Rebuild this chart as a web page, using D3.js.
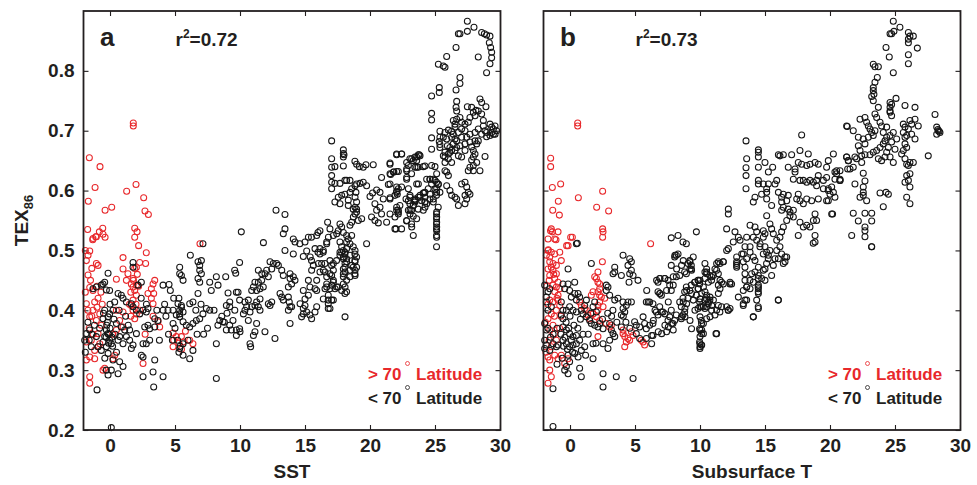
<!DOCTYPE html>
<html>
<head>
<meta charset="utf-8">
<script src="https://cdnjs.cloudflare.com/ajax/libs/d3/7.8.5/d3.min.js"></script>
<style>
body { margin: 0; background: #fff; }
</style>
</head>
<body>
<svg id="chart" width="977" height="485"></svg>
<script>
var xTicks = [0, 5, 10, 15, 20, 25, 30];
var yTicks = [0.2, 0.3, 0.4, 0.5, 0.6, 0.7, 0.8];
var panelLetters = ['a', 'b'];
var rSquared = ['0.72', '0.73'];
var xTitles = ['SST', 'Subsurface T'];
var legendLabels = ['> 70', '< 70'];

// panel a, > 70 deg latitude
var sstHigh = [
  [-1.59,0.655],[-0.77,0.64],[-1.15,0.605],[-1.67,0.582],[1.79,0.713],[1.79,0.708],[2.0,0.61],[1.28,0.599],
  [2.59,0.588],[2.69,0.566],[2.95,0.56],[-0.38,0.567],[0.13,0.572],[-1.72,0.535],[-0.56,0.537],[-0.82,0.531],
  [-1.1,0.523],[-1.33,0.518],[-0.38,0.522],[1.9,0.537],[2.08,0.531],[1.9,0.522],[2.2,0.508],[6.92,0.511],
  [-1.05,0.523],[-0.54,0.527],[-1.31,0.52],[2.79,0.496],[-1.56,0.499],[-1.69,0.492],[-1.82,0.483],[-1.05,0.478],
  [-0.92,0.475],[-1.69,0.459],[1.0,0.488],[2.28,0.48],[2.74,0.478],[2.03,0.472],[1.0,0.469],[1.38,0.461],
  [0.49,0.452],[1.26,0.45],[1.77,0.453],[1.64,0.444],[1.77,0.439],[2.03,0.442],[1.9,0.433],[2.03,0.425],
  [1.77,0.417],[1.64,0.408],[1.77,0.4],[2.03,0.394],[1.9,0.386],[3.44,0.45],[3.31,0.444],[3.18,0.436],
  [3.36,0.428],[2.92,0.428],[3.18,0.42],[3.31,0.411],[-1.56,0.438],[-1.31,0.433],[-0.92,0.42],[-1.18,0.414],
  [-1.82,0.411],[-1.31,0.4],[-0.79,0.394],[-1.56,0.389],[-1.05,0.383],[-0.67,0.375],[-0.92,0.361],[-1.44,0.35],
  [-1.82,0.347],[-0.79,0.344],[-1.18,0.333],[-1.56,0.322],[-1.18,0.319],[-1.82,0.317],[-0.41,0.303],[-1.56,0.289],
  [-1.56,0.278],[0.49,0.4],[1.0,0.397],[0.74,0.383],[1.0,0.372],[0.49,0.367],[3.31,0.39],[3.69,0.381],
  [3.82,0.372],[4.85,0.362],[5.1,0.356],[4.85,0.339],[5.49,0.356],[5.62,0.347],[6.38,0.344],[6.13,0.35],
  [0.36,0.325],[0.23,0.319],[2.54,0.311],[-0.54,0.3],[-0.92,0.339],
  [-1.7,0.4],[-1.4,0.39],[-1.0,0.405],[-1.6,0.37],[-1.3,0.36],[-0.6,0.41],[-0.7,0.43],[-1.9,0.43],
  [-1.5,0.45],[-1.0,0.44],[-1.9,0.5],[-1.4,0.47],[1.6,0.43],[1.8,0.45],[2.1,0.46],[1.5,0.41],
  [2.0,0.41],[1.6,0.39],[2.2,0.44],[1.9,0.47],[2.3,0.4],[0.2,0.36],[5.5,0.335],[5.8,0.365],
  [4.9,0.35],[5.3,0.345],[2.7,0.36]
];

// panel a, < 70 deg latitude
var sstLow = [
  [10.1,0.531],[7.15,0.511],[6.18,0.492],[6.77,0.481],[7.03,0.483],[6.9,0.475],[6.9,0.467],[7.03,0.461],
  [6.77,0.453],[6.9,0.447],[5.36,0.472],[5.36,0.461],[5.49,0.458],[5.62,0.45],[1.77,0.48],[1.77,0.472],
  [-0.15,0.462],[-0.41,0.447],[-0.54,0.444],[-0.67,0.442],[-1.05,0.439],[-1.31,0.436],[-0.28,0.434],[-0.03,0.433],
  [2.41,0.447],[2.15,0.442],[4.08,0.442],[4.54,0.443],[4.64,0.433],[7.67,0.447],[8.31,0.442],[8.9,0.456],
  [9.59,0.467],[9.67,0.462],[9.97,0.48],[8.18,0.456],[7.79,0.433],[9.08,0.429],[9.72,0.43],[9.85,0.43],
  [6.77,0.428],[6.38,0.414],[6.13,0.411],[9.97,0.417],[9.21,0.414],[8.95,0.408],[9.21,0.406],
  [0.62,0.428],[0.87,0.425],[1.0,0.42],[0.36,0.414],[0.23,0.4],[-0.03,0.394],[-0.15,0.389],[-0.54,0.386],
  [-0.41,0.4],[1.26,0.414],[1.64,0.411],[1.77,0.406],[2.03,0.4],[2.28,0.394],[2.54,0.4],[2.79,0.397],
  [2.92,0.403],[4.08,0.4],[4.46,0.4],[4.85,0.4],[5.23,0.411],[5.49,0.408],[5.36,0.4],[5.62,0.397],
  [5.36,0.394],[3.44,0.386],[3.69,0.383],[2.92,0.375],[3.05,0.369],[2.67,0.372],[3.44,0.372],[5.1,0.392],
  [5.36,0.389],[5.62,0.381],[5.87,0.375],[6.13,0.372],[6.38,0.378],[6.64,0.383],[6.9,0.386],[7.15,0.394],
  [7.41,0.403],[7.67,0.4],[8.44,0.383],[8.69,0.381],[9.21,0.375],[9.46,0.383],[9.72,0.367],[9.97,0.369],
  [9.33,0.367],[0.49,0.378],[0.87,0.372],[1.13,0.367],[1.51,0.367],[1.26,0.356],[0.74,0.356],[0.62,0.35],
  [1.0,0.344],[1.51,0.35],[1.77,0.342],[1.64,0.336],[2.03,0.361],[2.54,0.344],[3.05,0.35],[2.79,0.344],
  [-0.28,0.367],[-0.15,0.361],[-0.41,0.356],[-0.03,0.35],[-0.54,0.347],[0.1,0.344],[-0.28,0.339],[-0.67,0.333],
  [-0.15,0.328],[-1.56,0.367],[-1.82,0.361],[-1.95,0.35],[-1.44,0.339],[-0.92,0.339],[-1.05,0.356],
  [0.23,0.317],[0.74,0.314],[1.0,0.306],[0.62,0.294],[-0.28,0.3],[-0.15,0.292],[2.54,0.322],[2.41,0.325],
  [3.44,0.317],[2.54,0.289],[3.31,0.297],[4.08,0.289],[3.36,0.272],[-1.0,0.267],[8.18,0.286],[4.85,0.378],
  [5.36,0.336],[5.62,0.344],[6.38,0.333],[5.62,0.325],[6.13,0.319],[8.18,0.344],[8.95,0.367],[9.72,0.358],
  [0.1,0.204],
  [-0.2,0.38],[0.0,0.37],[-0.3,0.355],[0.2,0.34],[-0.1,0.345],[0.4,0.36],[-1.7,0.38],[-1.2,0.375],
  [-0.8,0.37],[0.3,0.385],[-0.5,0.395],[-1.6,0.35],[-1.9,0.33],[-1.4,0.36],[0.0,0.41],[0.5,0.33],
  [-0.4,0.32],[0.1,0.3],[-0.1,0.36],[0.15,0.355],[-0.25,0.375],[1.2,0.39],[1.4,0.375],[0.7,0.4],
  [2.4,0.42],[2.8,0.41],[3.6,0.4],[4.2,0.41],[4.9,0.42],[5.3,0.42],[5.5,0.405],[6.6,0.4],
  [7.0,0.41],[8.0,0.4],[8.6,0.39],[8.8,0.38],[7.5,0.37],[7.2,0.36],[8.3,0.375],[9.6,0.4],
  [9.0,0.395],[5.0,0.37],[4.3,0.39],[5.3,0.33],[5.4,0.34],[5.2,0.35],[4.8,0.35],[6.0,0.35],
  [4.5,0.36],[3.8,0.35],[6.7,0.36],
  [12.77,0.567],[13.46,0.56],[13.46,0.536],[13.33,0.528],[11.8,0.513],[14.1,0.519],[14.23,0.514],[14.6,0.511],
  [15.0,0.514],[15.26,0.522],[15.5,0.522],[16.0,0.53],[16.15,0.533],[15.9,0.525],[13.46,0.5],[14.1,0.494],
  [14.87,0.49],[15.13,0.499],[15.5,0.483],[15.4,0.489],[15.77,0.503],[16.15,0.503],[16.0,0.497],[16.4,0.497],
  [16.67,0.514],[16.8,0.522],[16.74,0.547],[16.92,0.536],[17.18,0.525],[17.44,0.528],[17.56,0.533],[17.69,0.544],
  [17.82,0.539],[17.95,0.53],[18.2,0.525],[18.46,0.542],[18.59,0.547],[18.72,0.556],[18.85,0.561],[18.97,0.564],
  [18.85,0.572],[18.97,0.581],[18.85,0.589],[18.92,0.597],[18.85,0.608],[18.97,0.611],
  [17.69,0.514],[17.82,0.506],[17.95,0.5],[18.08,0.497],[18.2,0.503],[17.82,0.497],[17.69,0.492],[17.95,0.489],
  [18.2,0.486],[18.46,0.492],[18.85,0.5],[18.97,0.489],[18.85,0.481],[18.97,0.472],[18.85,0.467],[18.85,0.458],
  [18.08,0.478],[17.95,0.469],[18.08,0.464],[17.95,0.456],[18.2,0.45],[18.08,0.439],[18.2,0.431],[17.95,0.444],
  [18.46,0.467],[18.59,0.475],[18.2,0.514],[18.46,0.511],[18.33,0.519],[18.59,0.525],
  [16.92,0.483],[17.05,0.475],[17.18,0.467],[17.05,0.458],[17.18,0.45],[17.05,0.442],[16.92,0.436],[17.31,0.436],
  [17.44,0.439],[16.67,0.444],[16.54,0.436],[16.79,0.425],[16.41,0.419],[16.79,0.411],[16.92,0.403],[17.18,0.417],
  [16.54,0.478],[16.41,0.467],[16.67,0.456],[16.15,0.464],[16.03,0.478],[15.64,0.475],[15.51,0.467],[15.9,0.45],
  [15.77,0.436],[15.9,0.433],[15.26,0.45],[15.38,0.439],[14.87,0.433],[15.0,0.419],[15.26,0.425],[15.0,0.408],
  [14.87,0.403],[15.13,0.397],[15.51,0.386],[15.38,0.392],[14.74,0.389],[14.87,0.394],[14.62,0.411],[15.9,0.406],
  [15.77,0.397],[13.85,0.461],[14.1,0.456],[14.23,0.45],[13.85,0.453],[13.97,0.444],[13.72,0.439],[13.33,0.458],
  [13.21,0.467],[12.95,0.475],[12.56,0.478],[12.82,0.478],[12.31,0.481],[12.44,0.469],[12.05,0.467],[11.92,0.461],
  [12.18,0.456],[11.67,0.45],[11.41,0.447],[11.15,0.447],[11.03,0.439],[10.9,0.433],[11.28,0.433],[11.54,0.436],
  [11.79,0.439],[11.41,0.467],[11.67,0.461],[13.08,0.428],[13.21,0.422],[13.33,0.417],[13.72,0.422],[13.79,0.414],
  [13.85,0.406],[13.72,0.4],[13.97,0.406],[13.85,0.378],[12.44,0.414],[12.18,0.411],[12.31,0.408],[11.54,0.419],
  [11.28,0.414],[11.15,0.408],[10.9,0.406],[10.64,0.417],[10.38,0.414],[10.51,0.406],[10.26,0.394],[10.38,0.4],
  [10.77,0.397],[10.64,0.383],[11.28,0.378],[11.15,0.364],[11.03,0.358],[11.92,0.364],[12.69,0.353],[10.77,0.344],
  [10.82,0.339],[10.0,0.364],[11.54,0.4],[11.41,0.406],[18.08,0.389],
  [16.67,0.511],[16.41,0.5],[16.15,0.494],[17.18,0.478],[16.28,0.478],[16.54,0.464],[16.92,0.461],[17.18,0.447],
  [16.67,0.439],[16.79,0.417],[17.05,0.417],[16.79,0.403],[17.43,0.483],[17.69,0.497],[18.07,0.494],[17.95,0.486],
  [18.2,0.481],[18.07,0.472],[17.95,0.461],[17.56,0.439],[17.82,0.433],[18.07,0.428],[18.71,0.506],[18.84,0.494],
  [18.84,0.483],[18.71,0.472],[18.84,0.461],[18.46,0.456],[19.74,0.511],[25.12,0.506],
  [17.05,0.683],[17.95,0.668],[17.95,0.662],[17.95,0.656],[18.0,0.66],[17.05,0.653],[17.05,0.639],[17.3,0.64],
  [17.95,0.641],[17.05,0.625],[17.05,0.614],[17.05,0.603],[17.3,0.612],[17.69,0.612],[18.07,0.617],[18.2,0.617],
  [18.46,0.617],[18.84,0.649],[18.97,0.644],[19.18,0.64],[19.48,0.639],[19.69,0.643],[20.25,0.643],[21.54,0.646],
  [22.05,0.66],[22.43,0.661],[22.82,0.636],[22.05,0.632],[21.84,0.631],[21.59,0.627],[20.89,0.622],[21.41,0.61],
  [22.43,0.606],[22.82,0.622],[23.07,0.653],[23.33,0.65],[23.59,0.656],[23.79,0.66],[23.46,0.639],[23.71,0.639],
  [24.23,0.641],[23.2,0.628],[23.59,0.611],[24.61,0.619],[25.0,0.617],[25.12,0.614],[25.25,0.61],[24.48,0.603],
  [25.0,0.602],[25.12,0.597],[25.12,0.592],[24.61,0.594],[24.15,0.596],[23.71,0.589],[23.46,0.584],[23.07,0.589],
  [22.77,0.586],[22.05,0.599],[22.1,0.594],[22.18,0.603],[21.54,0.588],[21.02,0.586],[20.77,0.597],[20.51,0.601],
  [20.2,0.596],[20.0,0.59],[19.74,0.608],[19.48,0.614],[19.23,0.612],[18.59,0.603],[18.46,0.597],[18.07,0.594],
  [17.82,0.592],[17.56,0.589],[18.33,0.584],[17.69,0.578],[18.33,0.575],[18.71,0.569],[18.97,0.569],[17.3,0.581],
  [19.1,0.55],[19.36,0.553],[20.12,0.556],[20.38,0.55],[20.51,0.567],[20.38,0.578],[20.77,0.572],[20.89,0.561],
  [20.64,0.546],[21.28,0.547],[21.54,0.561],[22.05,0.572],[22.18,0.567],[22.18,0.561],[22.3,0.575],[22.0,0.536],
  [22.43,0.536],[22.95,0.567],[23.07,0.578],[23.2,0.567],[23.46,0.583],[23.33,0.575],[24.23,0.581],[23.97,0.583],
  [23.84,0.589],[24.36,0.578],[22.82,0.549],[23.2,0.544],[23.59,0.553],[23.71,0.569],[25.12,0.561],[25.12,0.553],
  [25.12,0.544],[25.12,0.536],[25.12,0.525],[24.87,0.581],[25.25,0.572],
  [27.49,0.883],[28.0,0.873],[26.92,0.862],[26.8,0.862],[27.49,0.866],[28.59,0.864],[28.8,0.862],[28.97,0.86],
  [29.23,0.858],[29.18,0.847],[29.28,0.839],[29.36,0.831],[29.36,0.822],[29.23,0.812],[28.97,0.797],[28.33,0.823],
  [26.62,0.839],[25.9,0.824],[25.26,0.811],[25.64,0.808],[25.77,0.806],[26.92,0.789],[26.92,0.779],[26.62,0.768],
  [25.33,0.772],[25.33,0.764],[24.74,0.758],
  [26.67,0.749],[26.62,0.739],[26.67,0.733],[27.49,0.74],[27.82,0.739],[28.15,0.734],[28.46,0.753],[28.59,0.747],
  [28.92,0.74],[28.33,0.733],[28.59,0.728],[27.95,0.731],[28.08,0.725],[27.69,0.722],[26.92,0.722],[26.67,0.719],
  [26.41,0.717],[26.54,0.711],[27.05,0.714],[27.31,0.711],[27.56,0.714],[26.54,0.706],[27.05,0.703],[27.31,0.7],
  [26.8,0.697],[26.41,0.694],[26.28,0.699],[26.03,0.701],[25.77,0.697],[25.38,0.699],[25.64,0.689],[25.38,0.689],
  [25.9,0.686],[26.28,0.689],[26.54,0.686],[26.67,0.683],[27.05,0.689],[27.44,0.689],[27.69,0.694],[28.08,0.697],
  [28.33,0.703],[28.72,0.717],[28.72,0.708],[28.85,0.7],[28.97,0.697],[29.23,0.711],[29.36,0.706],[29.49,0.703],
  [29.62,0.708],[29.74,0.7],[29.62,0.694],[29.23,0.692],[28.97,0.69],[28.59,0.694],[29.36,0.697],[29.49,0.694],
  [24.74,0.729],[24.74,0.718],[25.33,0.682],[25.38,0.677],[25.38,0.672],[24.74,0.688],[24.74,0.669],[25.95,0.675],
  [26.15,0.672],[26.41,0.678],[26.67,0.672],[26.92,0.675],[27.31,0.678],[27.69,0.681],[27.82,0.673],[28.21,0.678],
  [28.08,0.683],[28.33,0.683],[26.54,0.667],[26.15,0.664],[25.77,0.664],[25.64,0.658],[26.03,0.653],[26.28,0.647],
  [26.8,0.658],[27.05,0.656],[27.31,0.667],[27.95,0.667],[28.08,0.661],[27.95,0.656],[27.82,0.651],[28.21,0.647],
  [27.95,0.642],[27.69,0.639],[27.56,0.633],[27.95,0.633],[28.46,0.633],[28.85,0.657],
  [21.54,0.644],[22.05,0.661],[22.44,0.661],[21.54,0.628],[21.8,0.631],[22.18,0.632],[21.54,0.611],[22.05,0.606],
  [22.05,0.597],[21.92,0.592],[21.54,0.586],[22.05,0.567],[22.18,0.564],[21.92,0.556],[21.92,0.536],[22.82,0.647],
  [22.95,0.642],[23.21,0.653],[23.46,0.656],[23.72,0.66],[23.85,0.658],[23.59,0.65],[23.59,0.639],[24.1,0.64],
  [22.82,0.633],[22.82,0.619],[23.72,0.611],[22.95,0.603],[23.08,0.592],[22.95,0.583],[23.46,0.586],[23.46,0.581],
  [23.33,0.575],[23.85,0.592],[24.1,0.596],[24.23,0.597],[24.23,0.589],[24.23,0.581],[24.23,0.572],[24.1,0.567],
  [23.08,0.567],[23.08,0.561],[23.33,0.557],[22.82,0.55],[23.21,0.539],[23.33,0.525],[24.74,0.642],[25.0,0.64],
  [25.77,0.647],[25.77,0.633],[25.13,0.628],[25.9,0.631],[26.03,0.625],[24.62,0.619],[24.87,0.619],[25.26,0.611],
  [25.13,0.604],[25.38,0.597],[25.9,0.608],[26.15,0.6],[26.28,0.592],[26.54,0.589],[26.67,0.586],[26.8,0.575],
  [27.05,0.611],[27.31,0.614],[27.44,0.606],[27.56,0.597],[27.69,0.594],[27.31,0.592],[27.44,0.586],[27.31,0.578],
  [24.62,0.586],[24.87,0.586],[25.13,0.564],[25.13,0.556],[25.13,0.547],[25.13,0.539],[25.13,0.533],[25.13,0.522],
  [24.36,0.619],[24.74,0.611],[25.77,0.656],[26.03,0.661],[26.28,0.667]
];

// panel b, > 70 deg latitude
var subHigh = [
  [-1.49,0.654],[-1.49,0.64],[-1.36,0.605],[-0.9,0.582],[-0.72,0.611],[-1.33,0.567],[-0.82,0.559],[0.59,0.713],
  [0.59,0.708],[0.64,0.588],[2.51,0.599],[2.05,0.572],[2.97,0.566],[2.51,0.536],[2.51,0.522],[-1.44,0.536],
  [-1.36,0.531],[-1.08,0.518],[-1.5,0.533],[0.05,0.522],[-0.26,0.508],[-1.67,0.501],[6.2,0.511],
  [-0.92,0.531],[-1.18,0.519],[-1.69,0.519],[-0.15,0.508],[0.18,0.522],[2.54,0.531],
  [-1.69,0.5],[-1.44,0.497],[-1.82,0.492],[-1.56,0.489],[-1.18,0.494],[-0.79,0.497],[-0.67,0.483],[-1.56,0.481],
  [-1.31,0.478],[-1.05,0.475],[-1.44,0.472],[-1.69,0.469],[-1.31,0.467],[-1.05,0.461],[-1.56,0.458],[-1.18,0.453],
  [-0.92,0.447],[-1.31,0.442],[-1.05,0.439],[-0.79,0.436],[-1.18,0.431],[-0.92,0.425],[-1.56,0.417],[-1.31,0.414],
  [-0.92,0.417],[-0.79,0.408],[-1.05,0.4],[-1.44,0.394],[-1.69,0.386],[-1.31,0.375],[-1.56,0.367],[-1.18,0.361],
  [-1.05,0.35],[-1.44,0.339],[-1.69,0.322],[-1.56,0.317],[-1.18,0.325],[-0.92,0.319],[-1.56,0.3],[-1.44,0.289],
  [-1.69,0.278],[-0.67,0.325],[-0.41,0.311],[-0.15,0.319],
  [0.74,0.414],[0.87,0.408],[1.13,0.403],[1.26,0.4],[1.38,0.392],[1.51,0.386],[1.77,0.394],[2.03,0.389],
  [2.15,0.4],[2.15,0.408],[2.28,0.414],[2.41,0.422],[2.28,0.425],[2.15,0.431],[2.28,0.436],[2.28,0.444],
  [2.15,0.447],[2.03,0.453],[1.9,0.456],[2.49,0.481],[2.15,0.464],[1.77,0.431],[1.64,0.425],[2.54,0.406],
  [2.67,0.42],[2.28,0.383],[3.05,0.372],[3.18,0.375],[2.79,0.378],
  [4.08,0.361],[4.21,0.356],[4.33,0.347],[4.21,0.339],[4.46,0.353],[4.72,0.364],[4.85,0.358],[4.59,0.35],
  [5.62,0.347],[5.74,0.342],[5.49,0.35],[4.08,0.367],[2.15,0.356],
  [-1.8,0.44],[-1.7,0.41],[-1.9,0.38],[-1.6,0.35],[-1.85,0.33],[-1.2,0.39],[-1.0,0.42],[-0.7,0.39],
  [-0.8,0.37],[-1.6,0.45],[-1.25,0.46]
];

// panel b, < 70 deg latitude
var subLow = [
  [0.56,0.512],[0.49,0.511],[4.08,0.492],[4.59,0.486],[4.72,0.481],[4.46,0.475],[4.72,0.467],[4.59,0.461],
  [4.85,0.458],[5.23,0.45],[4.54,0.447],[3.44,0.472],[3.44,0.464],[3.31,0.461],[3.95,0.458],[1.64,0.478],
  [2.79,0.442],[2.92,0.439],[2.79,0.433],[3.05,0.425],[3.44,0.417],[3.69,0.42],[4.08,0.414],[4.46,0.414],
  [4.33,0.408],[4.08,0.403],[4.21,0.397],[3.95,0.392],[4.72,0.414],[4.97,0.381],[5.1,0.375],[5.62,0.389],
  [5.74,0.378],[5.36,0.372],[6.13,0.375],[6.38,0.378],[5.87,0.369],[6.77,0.392],[7.03,0.397],[6.9,0.406],
  [7.15,0.397],[7.67,0.389],[7.79,0.4],[7.54,0.383],[7.92,0.378],[8.05,0.383],[8.18,0.392],[8.56,0.386],
  [8.69,0.392],[8.82,0.397],[8.56,0.406],[8.44,0.414],[8.69,0.42],[9.08,0.42],[8.82,0.431],[9.21,0.433],
  [8.95,0.439],[9.33,0.442],[9.59,0.447],[9.85,0.45],[9.97,0.444],[9.85,0.436],[9.72,0.425],[9.97,0.414],
  [10.1,0.406],[9.85,0.403],[10.1,0.383],[9.97,0.369],[9.97,0.347],[10.1,0.342],[6.9,0.453],[6.77,0.447],
  [7.28,0.453],[7.54,0.45],[7.67,0.442],[7.79,0.433],[6.77,0.431],[6.9,0.428],[7.03,0.425],[5.87,0.414],
  [6.13,0.414],[6.38,0.411],[6.64,0.397],[7.79,0.475],[8.18,0.492],[8.31,0.494],[8.05,0.489],[8.69,0.514],
  [8.95,0.511],[9.21,0.483],[9.08,0.478],[9.33,0.475],[9.33,0.469],[8.95,0.461],[8.82,0.464],[8.44,0.458],
  [8.18,0.456],[8.31,0.525],[7.79,0.521],[9.72,0.531],
  [-0.15,0.469],[-0.54,0.444],[-0.15,0.444],[0.36,0.447],[-0.41,0.436],[-0.03,0.433],[0.36,0.428],[0.62,0.428],
  [0.74,0.422],[0.1,0.422],[0.49,0.417],[-0.03,0.406],[-0.28,0.4],[0.23,0.4],[0.49,0.397],[0.87,0.4],
  [1.13,0.408],[1.26,0.417],[1.0,0.394],[1.26,0.389],[1.51,0.383],[1.64,0.378],[1.9,0.375],[2.15,0.372],
  [2.54,0.369],[3.05,0.378],[3.18,0.367],[3.31,0.361],[3.44,0.356],[3.05,0.35],[2.54,0.344],[2.92,0.336],
  [3.95,0.372],[5.1,0.361],[5.36,0.353],[5.87,0.353],[6.38,0.358],[2.03,0.397],[1.77,0.406],[1.9,0.414],
  [2.28,0.378],
  [-0.54,0.372],[-0.28,0.367],[-0.03,0.361],[0.23,0.356],[0.49,0.358],[-0.54,0.35],[-0.28,0.344],[-0.03,0.339],
  [0.23,0.342],[0.49,0.344],[0.74,0.35],[0.87,0.333],[1.13,0.339],[0.36,0.328],[0.62,0.322],[-0.15,0.325],
  [-0.03,0.314],[-0.28,0.306],[-0.41,0.3],[-0.15,0.294],[0.74,0.303],[0.87,0.289],[1.77,0.319],[2.54,0.294],
  [2.54,0.272],[3.56,0.289],[4.85,0.286],[1.77,0.344],[-1.95,0.35],[-1.82,0.342],[-1.95,0.336],[-1.56,0.333],
  [-1.31,0.344],[-1.05,0.339],[-0.92,0.342],[-1.82,0.367],[-1.95,0.378],[-1.69,0.4],[-1.82,0.414],[-1.44,0.406],
  [-0.67,0.414],[-0.54,0.4],[-0.67,0.392],[-0.54,0.386],[-1.31,0.206],[-1.31,0.269],[-1.95,0.442],[-1.56,0.436],
  [-1.69,0.431],[-1.82,0.422],
  [-0.3,0.38],[-0.1,0.37],[0.1,0.35],[-0.4,0.355],[0.3,0.375],[0.0,0.39],[-0.7,0.36],[-1.0,0.37],
  [-1.3,0.36],[-1.7,0.37],[-1.5,0.355],[0.6,0.37],[0.8,0.385],[1.0,0.36],[1.4,0.36],[0.2,0.33],
  [-0.2,0.335],[-0.5,0.34],[1.6,0.395],[2.5,0.385],[2.9,0.395],[3.2,0.39],[3.6,0.38],[4.3,0.38],
  [4.6,0.37],[4.1,0.39],[2.0,0.345],[1.2,0.325],[3.3,0.4],[-0.6,0.32],[-1.0,0.31],
  [6.28,0.358],[5.9,0.433],[6.02,0.414],[6.54,0.4],[6.79,0.364],[7.05,0.361],[7.3,0.375],[7.43,0.364],
  [7.56,0.372],[7.82,0.378],[7.94,0.367],[7.3,0.394],[7.56,0.414],[6.92,0.428],[6.66,0.45],[6.92,0.453],
  [7.94,0.442],[7.3,0.453],[7.43,0.433],[7.94,0.456],[6.28,0.344],[6.41,0.383],
  [8.2,0.469],[8.07,0.492],[8.58,0.475],[8.71,0.483],[9.23,0.481],[9.23,0.469],[9.35,0.467],[9.48,0.489],
  [9.61,0.447],[9.87,0.45],[9.87,0.436],[10.0,0.419],[9.48,0.417],[9.35,0.428],[8.97,0.433],[8.71,0.414],
  [8.58,0.389],[8.84,0.389],[9.23,0.383],[9.35,0.369],[8.84,0.403],[8.97,0.411],[9.61,0.4],[10.0,0.389],
  [10.12,0.378],[10.0,0.367],[10.12,0.361],[10.0,0.344],[10.0,0.339],[10.25,0.406],[10.38,0.417],[10.51,0.406],
  [10.64,0.414],[10.76,0.417],[10.89,0.4],[10.51,0.425],[10.38,0.464],[10.51,0.469],[10.51,0.461],[10.76,0.458],
  [10.89,0.45],[11.28,0.467],[11.41,0.461],[11.53,0.478],[11.79,0.481],[11.66,0.447],[11.41,0.428],[11.66,0.406],
  [11.53,0.397],[11.28,0.361],[12.05,0.406],[12.17,0.4],[12.3,0.444],[12.43,0.444],[12.82,0.478],[12.82,0.472],
  [13.33,0.481],[13.59,0.439],[13.33,0.411],[13.46,0.417],[14.1,0.389],[14.48,0.406],[13.84,0.45],[13.97,0.461],
  [14.23,0.464],[14.48,0.453],[14.48,0.439],[14.48,0.431],[14.74,0.453],[15.0,0.45],[14.87,0.467],[15.12,0.478],
  [15.25,0.486],[14.87,0.494],[14.61,0.506],[18.71,0.512],[23.2,0.506],[16.02,0.417],
  [21.33,0.707],[17.82,0.693],[13.54,0.683],[14.49,0.668],[14.49,0.664],[14.49,0.656],[14.49,0.639],[13.59,0.653],
  [13.54,0.638],[13.54,0.625],[13.54,0.603],[15.0,0.647],[15.59,0.639],[15.26,0.631],[16.03,0.66],[16.15,0.658],
  [16.41,0.66],[17.05,0.66],[17.69,0.667],[18.33,0.661],[17.56,0.647],[17.82,0.644],[18.21,0.642],[18.46,0.644],
  [18.85,0.647],[19.1,0.644],[19.87,0.65],[20.26,0.661],[20.51,0.633],[20.38,0.631],[21.28,0.656],[21.41,0.65],
  [21.36,0.636],[20.77,0.619],[20.77,0.617],[19.74,0.622],[19.49,0.617],[19.1,0.625],[18.97,0.617],[18.97,0.608],
  [18.72,0.614],[18.46,0.617],[18.21,0.614],[17.95,0.617],[17.69,0.617],[17.18,0.619],[16.79,0.639],[17.31,0.636],
  [17.31,0.631],[15.9,0.617],[15.77,0.611],[15.26,0.611],[15.13,0.603],[15.13,0.597],[14.49,0.617],[14.49,0.611],
  [14.87,0.611],[14.23,0.589],[14.1,0.581],[14.74,0.594],[15.13,0.586],[15.51,0.575],[16.03,0.597],[16.28,0.589],
  [16.41,0.594],[16.79,0.592],[16.67,0.583],[16.28,0.581],[16.41,0.572],[16.28,0.567],[16.79,0.569],[16.92,0.564],
  [17.18,0.567],[17.56,0.594],[17.44,0.586],[17.69,0.583],[17.95,0.578],[18.21,0.586],[18.59,0.583],[19.1,0.586],
  [19.49,0.603],[19.87,0.603],[20.13,0.606],[20.26,0.597],[20.38,0.589],[19.87,0.583],[20.13,0.561],[18.85,0.561],
  [18.97,0.55],[18.72,0.55],[18.46,0.539],[18.21,0.542],[17.95,0.539],[17.69,0.547],[17.56,0.525],[18.85,0.525],
  [18.85,0.514],[17.18,0.556],[16.92,0.558],[16.67,0.55],[16.41,0.539],[16.28,0.531],[16.15,0.522],[15.9,0.517],
  [15.64,0.528],[15.51,0.536],[15.38,0.544],[15.13,0.558],[15.0,0.528],[14.87,0.522],[15.0,0.506],[15.13,0.497],
  [15.26,0.492],[15.38,0.5],[15.9,0.5],[16.15,0.506],[16.28,0.494],[16.54,0.489],[16.41,0.478],[16.54,0.481],
  [16.67,0.489],[16.03,0.486],[15.77,0.486],[15.64,0.475],[15.51,0.458],[15.0,0.469],[14.49,0.472],[14.23,0.483],
  [14.1,0.489],[13.85,0.506],[13.59,0.522],[13.46,0.506],[13.33,0.494],[13.59,0.486],[13.85,0.497],[14.62,0.511],
  [14.87,0.533],[14.36,0.531],[14.23,0.539],[13.85,0.542],[14.1,0.522],[14.36,0.517],[13.08,0.517],[12.95,0.522],
  [12.56,0.514],[12.18,0.503],[12.05,0.5],[12.18,0.569],[12.18,0.561],[12.05,0.536],[12.69,0.531],[12.82,0.489],
  [11.79,0.481],[11.28,0.478],[11.41,0.481],[11.15,0.469],[11.03,0.458],[10.9,0.456],[11.54,0.45],[11.41,0.442],
  [11.54,0.436],[11.79,0.444],[12.31,0.447],[12.82,0.481],[12.82,0.475],[13.46,0.472],[13.46,0.461],[13.46,0.45],
  [13.59,0.439],[13.33,0.433],[13.85,0.436],[14.1,0.447],[14.49,0.458],[14.49,0.442],[14.49,0.436],[14.49,0.428],
  [14.36,0.417],[14.49,0.403],[14.1,0.389],[13.59,0.417],[13.33,0.408],[12.95,0.422],[12.31,0.403],[12.18,0.4],
  [16.03,0.417],[13.21,0.494],[10.38,0.478],[10.51,0.464],[10.38,0.453],[10.64,0.447],[10.0,0.45],[10.26,0.439],
  [10.13,0.428],[10.38,0.431],[10.51,0.419],[10.77,0.422],[11.03,0.417],[10.64,0.411],[10.9,0.408],[11.41,0.408],
  [11.28,0.4],[11.15,0.392],[10.77,0.389],[10.51,0.386],[10.26,0.378],[10.13,0.367],[10.26,0.361],[10.0,0.356],
  [10.13,0.342],[10.0,0.336],[11.23,0.361],[10.38,0.403],[10.0,0.406],[10.0,0.419],
  [19.74,0.639],[20.77,0.633],[20.51,0.628],[20.38,0.619],[19.87,0.6],[20.0,0.594],[19.74,0.583],[20.2,0.561],
  [24.87,0.883],[25.38,0.873],[24.62,0.862],[24.74,0.862],[24.92,0.866],[26.03,0.864],[26.15,0.858],[26.03,0.853],
  [26.03,0.847],[26.41,0.858],[26.72,0.838],[24.31,0.839],[24.56,0.823],[26.03,0.827],[26.03,0.812],[24.87,0.797],
  [23.33,0.811],[23.46,0.807],[23.72,0.807],[23.64,0.789],[23.46,0.781],[23.33,0.772],[23.33,0.767],[23.38,0.761],
  [23.21,0.757],[23.33,0.75],[23.72,0.739],[23.46,0.728],[23.59,0.722],[24.62,0.747],[24.74,0.744],[24.62,0.739],
  [24.62,0.733],[24.62,0.731],[24.74,0.725],[25.08,0.754],[25.77,0.742],[26.54,0.739],[28.08,0.727],
  [21.28,0.708],[21.79,0.7],[22.18,0.689],[22.31,0.719],[22.69,0.722],[22.82,0.714],[22.95,0.708],[23.08,0.703],
  [23.21,0.697],[23.46,0.7],[23.33,0.692],[22.95,0.689],[22.56,0.686],[22.69,0.678],[22.18,0.675],[22.31,0.667],
  [22.44,0.658],[22.69,0.66],[23.08,0.66],[23.33,0.664],[23.59,0.667],[23.85,0.672],[24.1,0.678],[24.23,0.683],
  [24.36,0.689],[24.62,0.692],[24.87,0.697],[24.1,0.697],[23.97,0.708],[23.85,0.714],[24.36,0.706],[24.74,0.681],
  [24.49,0.672],[24.36,0.664],[24.23,0.656],[23.97,0.65],[23.72,0.653],[24.62,0.656],[24.87,0.647],[25.0,0.669],
  [25.13,0.686],[25.64,0.711],[25.77,0.706],[25.64,0.697],[25.77,0.689],[25.9,0.692],[26.03,0.703],[26.15,0.717],
  [26.28,0.711],[26.54,0.719],[26.79,0.708],[26.28,0.694],[26.54,0.686],[25.77,0.678],[25.9,0.672],[25.64,0.667],
  [25.51,0.661],[25.77,0.653],[25.9,0.644],[26.03,0.642],[26.15,0.647],[26.41,0.647],[26.15,0.628],[25.9,0.625],
  [25.77,0.614],[26.03,0.617],[26.15,0.606],[25.9,0.589],[26.15,0.578],[27.56,0.658],[28.21,0.706],[28.33,0.7],
  [28.46,0.697],[28.21,0.694],[28.3,0.702],[28.4,0.699],
  [21.28,0.656],[21.41,0.65],[21.92,0.656],[22.05,0.653],[21.79,0.639],[21.54,0.636],[22.44,0.647],[22.56,0.629],
  [22.69,0.616],[22.56,0.606],[22.56,0.597],[22.56,0.592],[22.31,0.589],[22.82,0.583],[21.92,0.611],[20.77,0.617],
  [23.85,0.596],[24.31,0.597],[24.49,0.594],[24.1,0.573],[21.79,0.562],[22.69,0.562],[23.21,0.562],[22.18,0.549],
  [22.69,0.539],[22.69,0.533],[23.21,0.549],[22.69,0.523],[21.67,0.525],[23.21,0.506]
];

(function () {
    'use strict';

    var FONT = '"Liberation Sans", Arial, Helvetica, sans-serif';
    var INK = '#231f20';
    var DOT = '#161616';
    var RED = '#e8282b';
    var W = 417, TOP = 11, BOTTOM = 430;
    var panels = [
        { left: 83.5, high: sstHigh, low: sstLow },
        { left: 543.5, high: subHigh, low: subLow }
    ];

    var svg = d3.select('#chart');
    svg.append('rect').attr('width', 977).attr('height', 485).attr('fill', '#fff');

    panels.forEach(drawPanel);

    // y axis title, only once on the left
    var yTitle = svg.append('text')
        .attr('transform', 'translate(28,' + ((TOP + BOTTOM) / 2) + ') rotate(-90)')
        .attr('text-anchor', 'middle')
        .attr('font-family', FONT).attr('font-weight', 'bold')
        .attr('font-size', 19).attr('fill', INK);
    yTitle.append('tspan').text('TEX');
    yTitle.append('tspan').attr('font-size', 13).attr('dy', 5).text('86');

    function styleAxis(sel) {
        sel.attr('font-family', FONT).attr('font-size', 19).attr('font-weight', 'bold');
        sel.select('.domain').remove();
        sel.selectAll('.tick line').attr('stroke', INK).attr('stroke-width', 1.1);
        sel.selectAll('.tick text').attr('fill', INK);
    }

    function drawPanel(p, i) {
        var x = d3.scaleLinear().domain([-2.04, 30.04]).range([p.left, p.left + W]);
        var y = d3.scaleLinear().domain([0.2, 0.9]).range([BOTTOM, TOP]);
        var g = svg.append('g');

        g.append('g').attr('transform', 'translate(0,' + BOTTOM + ')')
            .call(d3.axisBottom(x).tickValues(xTicks).tickSize(-5).tickPadding(9).tickFormat(d3.format('d')))
            .call(styleAxis);
        g.append('g').attr('transform', 'translate(0,' + TOP + ')')
            .call(d3.axisTop(x).tickValues(xTicks).tickSize(-5).tickFormat(''))
            .call(styleAxis);
        g.append('g').attr('transform', 'translate(' + p.left + ',0)')
            .call(d3.axisLeft(y).tickValues(yTicks).tickSize(-5).tickPadding(9)
                .tickFormat(i === 0 ? d3.format('.1f') : ''))
            .call(styleAxis);
        g.append('g').attr('transform', 'translate(' + (p.left + W) + ',0)')
            .call(d3.axisRight(y).tickValues(yTicks).tickSize(-5).tickFormat(''))
            .call(styleAxis);

        g.append('g').selectAll('circle')
            .data(p.high)
            .join('circle')
            .attr('cx', function (d) { return x(d[0]); })
            .attr('cy', function (d) { return y(d[1]); })
            .attr('r', 3)
            .attr('fill', 'none')
            .attr('stroke', RED)
            .attr('stroke-width', 1.05);

        g.append('g').selectAll('circle')
            .data(p.low)
            .join('circle')
            .attr('cx', function (d) { return x(d[0]); })
            .attr('cy', function (d) { return y(d[1]); })
            .attr('r', 3)
            .attr('fill', 'none')
            .attr('stroke', DOT)
            .attr('stroke-width', 1.05);

        g.append('rect')
            .attr('x', p.left).attr('y', TOP)
            .attr('width', W).attr('height', BOTTOM - TOP)
            .attr('fill', 'none').attr('stroke', INK).attr('stroke-width', 1.8);

        var txt = function (xPos, yPos, size) {
            return g.append('text').attr('x', xPos).attr('y', yPos)
                .attr('font-family', FONT).attr('font-weight', 'bold')
                .attr('font-size', size).attr('fill', INK);
        };

        txt(p.left + 16.5, 46, 26).text(panelLetters[i]);

        var r2 = txt(p.left + 92, 46, 19);
        r2.append('tspan').text('r');
        r2.append('tspan').attr('font-size', 12).attr('dy', -8).text('2');
        r2.append('tspan').attr('dy', 8).text('=' + rSquared[i]);

        txt(p.left + W / 2, 478, 19).attr('text-anchor', 'middle').text(xTitles[i]);

        // legend: two rows, red then black, with a small ring as the degree sign
        legendLabels.forEach(function (lab, k) {
            var base = 380 + k * 24;
            var col = k === 0 ? RED : INK;
            txt(p.left + 318, base, 17).attr('text-anchor', 'end').attr('fill', col).text(lab);
            g.append('circle')
                .attr('cx', p.left + 324).attr('cy', base - 16.5).attr('r', 2)
                .attr('fill', 'none').attr('stroke', col).attr('stroke-width', 0.8);
            txt(p.left + 332.5, base, 17).attr('fill', col).text('Latitude');
        });
    }
})();
</script>
</body>
</html>
